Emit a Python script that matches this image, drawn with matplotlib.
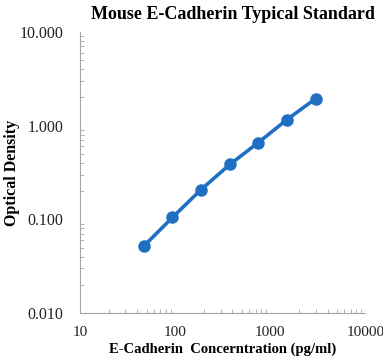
import matplotlib
matplotlib.use("Agg")
import matplotlib.pyplot as plt
from matplotlib.ticker import LogLocator, FixedLocator, NullFormatter

# standard curve values
concentration = [46.875, 93.75, 187.5, 375, 750, 1500, 3000]
optical_density = [0.052, 0.105, 0.208, 0.385, 0.66, 1.16, 1.94]

x_ticks = [10, 100, 1000, 10000]
x_tick_labels = ["10", "100", "1000", "10000"]
y_ticks = [0.01, 0.1, 1, 10]
y_tick_labels = ["0.010", "0.100", "1.000", "10.000"]

plt.rcParams['font.family'] = ['Liberation Serif', 'DejaVu Serif']

fig = plt.figure(figsize=(3.83, 3.62), dpi=100)
ax = fig.add_axes([0.209, 0.135, 0.745, 0.777])

blue = '#1F6FC2'
ax.plot(concentration, optical_density, color=blue, lw=2.6,
        marker='o', markersize=8, markerfacecolor=blue, markeredgecolor=blue,
        solid_capstyle='round')

ax.set_xscale('log')
ax.set_yscale('log')
ax.set_xlim(10, 10000)
ax.set_ylim(0.01, 10)

ax.xaxis.set_major_locator(FixedLocator(x_ticks))
ax.set_xticklabels(x_tick_labels)
ax.yaxis.set_major_locator(FixedLocator(y_ticks))
ax.set_yticklabels(y_tick_labels)
ax.xaxis.set_minor_locator(LogLocator(base=10, subs=range(2, 10)))
ax.yaxis.set_minor_locator(LogLocator(base=10, subs=range(2, 10)))
ax.xaxis.set_minor_formatter(NullFormatter())
ax.yaxis.set_minor_formatter(NullFormatter())

for side in ['top', 'right']:
    ax.spines[side].set_visible(False)
for side in ['left', 'bottom']:
    ax.spines[side].set_color('#A6A6A6')
    ax.spines[side].set_linewidth(0.8)

ax.tick_params(which='major', length=0, labelsize=11.5, colors='#A6A6A6',
               labelcolor='#222222')
ax.tick_params(axis='y', which='major', pad=12)
ax.tick_params(axis='x', which='major', pad=9, labelsize=11)
ax.tick_params(which='minor', direction='in', length=3, width=0.6, colors='#A6A6A6')

ax.set_title("Mouse E-Cadherin Typical Standard", fontsize=13, fontweight='bold',
             loc='right', pad=9, x=1.035)
ax.set_xlabel("E-Cadherin  Concerntration (pg/ml)", fontsize=10.5, fontweight='bold')
ax.xaxis.set_label_coords(0.5, -0.105)
ax.set_ylabel("Optical Density", fontsize=11.5, fontweight='bold')
ax.yaxis.set_label_coords(-0.21, 0.5)

fig.savefig("out.png", dpi=100)
